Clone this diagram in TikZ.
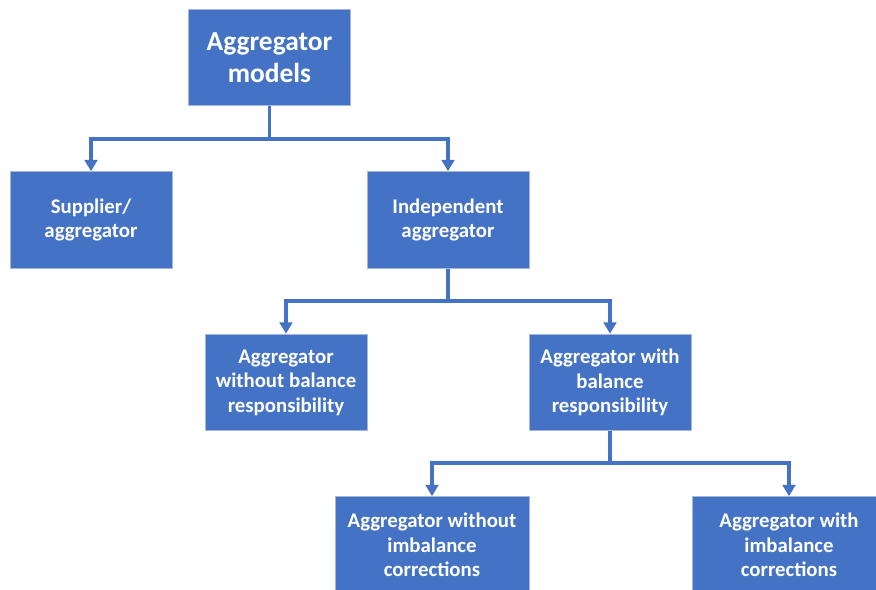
\documentclass[tikz,border=0pt]{standalone}
\usepackage{fontspec}
\setmainfont{Carlito}
\usepackage{tikz}
\usetikzlibrary{positioning}
\usetikzlibrary{arrows.meta}
\usepackage{xcolor}
\definecolor{aggblue}{RGB}{68,114,196}
\definecolor{aggedge}{RGB}{165,184,220}

\tikzset{
  modelbox/.style={fill=aggblue, draw=aggedge, line width=0.6pt, text=white,
    align=center, inner sep=0pt, minimum width=4.05cm, minimum height=2.42cm,
    font=\bfseries\fontsize{14.8}{17.5}\selectfont},
  widebox/.style={modelbox, minimum width=4.85cm},
  link/.style={aggblue, line width=2.2pt},
  linkarrow/.style={link, -{Triangle[width=9pt,length=8pt]}}
}

\begin{document}
\begin{tikzpicture}[x=0.025cm, y=-0.025cm]

\clip (0,0) rectangle (876,590);
\fill[white] (0,0) rectangle (876,590);

% nodes
{
\node[modelbox, font=\bfseries\fontsize{19.5}{22.7}\selectfont] (top) at (269.5,57.5)
{Aggregator\\models};

\node[modelbox] (sup) at (91,220) {Supplier/\\aggregator};
\node[modelbox] (ind) at (448,220) {Independent\\aggregator};

\node[modelbox] (nobal) at (286,382.5) {Aggregator\\without balance\\responsibility};
\node[modelbox] (bal) at (610,382.5) {Aggregator with\\balance\\responsibility};

\node[widebox] (noimb) at (432,545) {Aggregator without\\imbalance\\corrections};
\node[widebox] (imb) at (789,545) {Aggregator with\\imbalance\\corrections};
}

% connectors
\coordinate (j1) at (269.5,139);
\coordinate (j2) at (448,301);
\coordinate (j3) at (610,463);

\draw[link] (top.south) -- (j1);
\draw[linkarrow] (j1) -| (sup.north);
\draw[linkarrow] (j1) -| (ind.north);

\draw[link] (ind.south) -- (j2);
\draw[linkarrow] (j2) -| (nobal.north);
\draw[linkarrow] (j2) -| (bal.north);

\draw[link] (bal.south) -- (j3);
\draw[linkarrow] (j3) -| (noimb.north);
\draw[linkarrow] (j3) -| (imb.north);

\end{tikzpicture}
\end{document}
